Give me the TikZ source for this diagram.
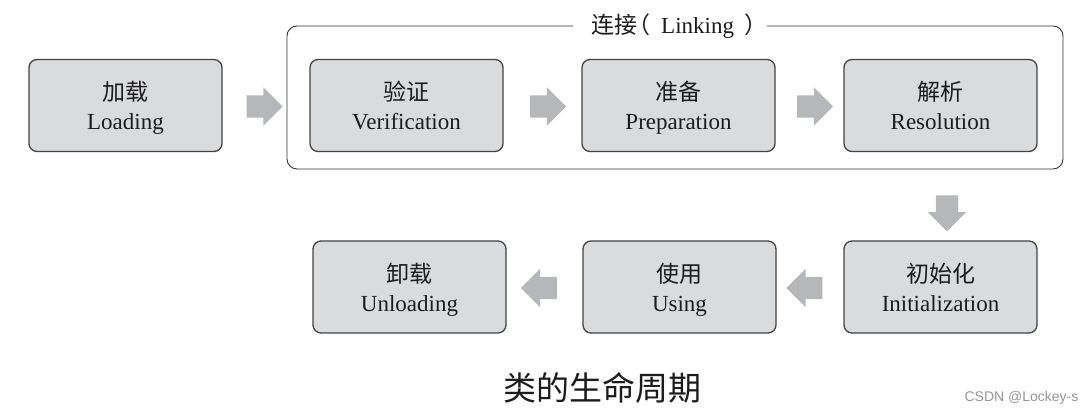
\documentclass[tikz,border=0pt]{standalone}
\usepackage{fontspec}
\setmainfont{Liberation Serif}
\newfontfamily\cjk{Noto Sans CJK SC}
\newfontfamily\wmfont{Liberation Sans}
\usetikzlibrary{shapes.arrows,calc}
\definecolor{boxfill}{RGB}{218,219,221}
\definecolor{boxline}{RGB}{68,68,68}
\definecolor{arrowgray}{RGB}{182,183,185}
\definecolor{txt}{RGB}{28,28,28}
\definecolor{wmgray}{RGB}{150,150,150}
\begin{document}
\begin{tikzpicture}[x=1pt,y=1pt,
  stagebox/.style={draw=boxline, line width=1.3pt, fill=boxfill, rounded corners=8pt,
    minimum width=193pt, minimum height=92pt, align=center, text=txt,
    font=\fontsize{23}{29}\selectfont, inner sep=0pt, text depth=0pt},
  blockarrow/.style={single arrow, fill=arrowgray, draw=none, minimum height=36pt,
    single arrow head extend=8pt, inner xsep=0pt, inner ysep=11pt},
  linkframe/.style={draw=black!80, line width=0.9pt, rounded corners=10pt,
    minimum width=776pt, minimum height=143pt, inner sep=0pt},
  linklabel/.style={fill=white, text=txt, inner xsep=0pt, inner ysep=2pt,
    font=\fontsize{23}{28}\selectfont},
  titlelabel/.style={text=txt, inner sep=0pt, font=\cjk\fontsize{33}{40}\selectfont},
  wmlabel/.style={text=wmgray, inner sep=0pt, font=\wmfont\fontsize{14}{16}\selectfont}]
\useasboundingbox (0,0) rectangle (1085,414);
\fill[white] (0,0) rectangle (1085,414);

% Linking frame
\node[linkframe] (linkbox) at (675,316.5) {};
\node[linklabel, anchor=west] (linktitle) at (573,388)
  {\hspace{18pt}{\cjk 连接}\hspace{-10pt}{\cjk （}\hspace{11pt}Linking\hspace{10pt}{\cjk ）}};

% top row
\node[stagebox] (load) at (125.5,308.5) {{\cjk 加载}\\Loading};
\node[stagebox] (ver)  at (406.5,308.5) {{\cjk 验证}\\Verification};
\node[stagebox] (prep) at (678.5,308.5) {{\cjk 准备}\\Preparation};
\node[stagebox] (res)  at (940.5,308.5) {{\cjk 解析}\\Resolution};

% bottom row
\node[stagebox] (init) at (940.5,127) {{\cjk 初始化}\\Initialization};
\node[stagebox] (use)  at (679.5,127) {{\cjk 使用}\\Using};
\node[stagebox] (unld) at (409.5,127) {{\cjk 卸载}\\Unloading};

% block arrows
\node[blockarrow] (a1) at ($(load.east)!0.42!(ver.west)+(0,-1)$) {};
\node[blockarrow] (a2) at ($(ver.east)!0.5!(prep.west)+(0,-1)$) {};
\node[blockarrow] (a3) at ($(prep.east)!0.5!(res.west)+(0,-1)$) {};
\node[blockarrow, rotate=-90] (a4) at ($(init.north)+(6.5,32.5)$) {};
\node[blockarrow, rotate=180] (a5) at ($(use.east)!0.5!(init.west)+(0,-1)$) {};
\node[blockarrow, rotate=180] (a6) at ($(unld.east)!0.5!(use.west)+(0,-1)$) {};

% caption and watermark
\node[titlelabel] (title) at (602,26) {类的生命周期};
\node[wmlabel] (wm) at (1021.5,16) {CSDN @Lockey-s};
\end{tikzpicture}
\end{document}
